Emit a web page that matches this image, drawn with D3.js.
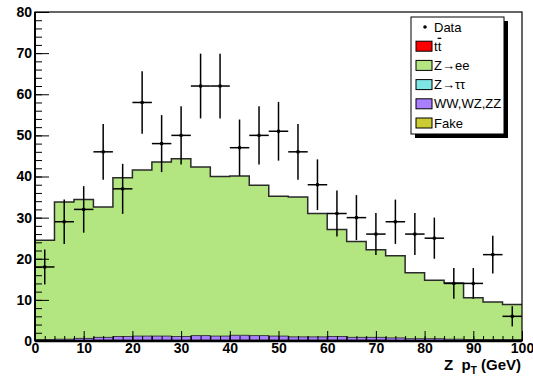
<!DOCTYPE html>
<html><head><meta charset="utf-8">
<script src="https://cdn.jsdelivr.net/npm/d3@7"></script>
<style>body{margin:0;background:#fff}svg{display:block}text{font-family:"Liberation Sans",Arial,sans-serif}</style>
</head><body><svg id="c" width="533" height="381"></svg>
<script>
// bin edges: 25 bins of 4 GeV from 0 to 100
const binEdges = d3.range(0, 101, 4);
const dataCounts = [18,29,32,46,37,58,48,50,62,62,47,50,51,46,38,31,30,26,29,26,25,14,14,21,6];
const totalMC   = [24.5,33.8,34.4,32.6,39.7,41.6,43.5,44.3,42.3,40.0,40.1,37.9,35.2,35.0,31.0,27.1,24.2,22.2,20.7,16.6,14.8,14.1,10.5,9.5,8.9];
const wwVals    = [0.2,0.3,0.5,0.7,0.9,1.0,1.0,0.9,1.1,1.0,1.2,1.1,1.0,0.8,0.8,0.9,0.7,0.7,0.6,0.4,0.4,0.3,0.2,0.2,0.2];
const ttVals    = [0.05,0.05,0.05,0.1,0.1,0.1,0.1,0.1,0.1,0.1,0.1,0.1,0.1,0.1,0.1,0.1,0.1,0.1,0.05,0.05,0.05,0.05,0.05,0.05,0.05];
const zttVals   = [0.05,0.05,0.05,0.05,0.05,0.05,0.05,0.05,0.05,0.05,0.05,0.05,0.05,0.05,0.05,0.05,0.05,0.05,0.05,0.05,0.05,0.05,0.05,0.05,0.05];
const fakeVals  = [0.05,0.05,0.05,0.05,0.05,0.05,0.05,0.05,0.05,0.05,0.05,0.05,0.05,0.05,0.05,0.05,0.05,0.05,0.05,0.05,0.05,0.05,0.05,0.05,0.05];
const zeeVals   = totalMC.map((t,i)=> t - wwVals[i] - ttVals[i] - zttVals[i] - fakeVals[i]);
const xTicks = [0,10,20,30,40,50,60,70,80,90,100];
const yTicks = [0,10,20,30,40,50,60,70,80];
const legendLabels = ["Data","tt\u0304","Z\u2192ee","Z\u2192\u03c4\u03c4","WW,WZ,ZZ","Fake"];

const svg = d3.select("#c");
const x = d3.scaleLinear().domain([0,100]).range([35,522]);
const y = d3.scaleLinear().domain([0,80]).range([341,12]);

// stack order bottom->top
const layers = [
  {name:"Fake", vals:fakeVals, color:"#cccc33"},
  {name:"tt", vals:ttVals, color:"#ff0000"},
  {name:"Ztt", vals:zttVals, color:"#7fe5e5"},
  {name:"WW", vals:wwVals, color:"#a97fff"},
  {name:"Zee", vals:zeeVals, color:"#b3e581"}
];
const base = new Array(25).fill(0);
const g = svg.append("g");
layers.forEach(L=>{
  L.low = base.slice();
  L.cum = base.map((b,i)=>b+L.vals[i]);
  L.cum.forEach((v,i)=>base[i]=v);
});
// Zee filled as step area
layers.slice().reverse().forEach(L=>{
  if(L.name==="Zee"){
    let pts = [[x(0), y(0)]];
    L.cum.forEach((v,i)=>{ pts.push([x(binEdges[i]), y(v)]); pts.push([x(binEdges[i+1]), y(v)]); });
    pts.push([x(100), y(0)]);
    g.append("path").attr("d", d3.line()(pts)+"Z").attr("fill", L.color).attr("stroke","none");
    let lp = [[x(0), y(0)]];
    L.cum.forEach((v,i)=>{ lp.push([x(binEdges[i]), y(v)]); lp.push([x(binEdges[i+1]), y(v)]); });
    g.append("path").attr("d", d3.line()(lp)).attr("fill","none").attr("stroke","#2a2a2a").attr("stroke-width",1.5);
  } else {
    L.vals.forEach((v,i)=>{
      g.append("rect").attr("x",x(binEdges[i])).attr("width",x(binEdges[i+1])-x(binEdges[i]))
        .attr("y",y(L.cum[i])).attr("height",Math.max(0,y(L.low[i])-y(L.cum[i])))
        .attr("fill",L.color).attr("stroke",L.name==="WW"?"#222":"none").attr("stroke-width",0.8);
    });
  }
});

// axes
const xMinor = d3.axisBottom(x).tickValues(d3.range(0,101,2)).tickSize(-5).tickFormat("");
const xMajor = d3.axisBottom(x).tickValues(xTicks).tickSize(-10).tickPadding(2).tickFormat(d3.format("d"));
const yMinor = d3.axisLeft(y).tickValues(d3.range(0,81,2)).tickSize(-7).tickFormat("");
const yMajor = d3.axisLeft(y).tickValues(yTicks).tickSize(-14).tickPadding(3).tickFormat(d3.format("d"));
[xMinor,xMajor].forEach(a=>{
  const ax = svg.append("g").attr("transform","translate(0,341)").call(a);
  ax.select(".domain").remove();
  ax.selectAll("line").attr("stroke","#000").attr("stroke-width",1);
  ax.selectAll("text").attr("font-size",14).attr("font-weight","bold").attr("fill","#000").attr("font-family","Liberation Sans, Arial");
});
[yMinor,yMajor].forEach(a=>{
  const ax = svg.append("g").attr("transform","translate(35,0)").call(a);
  ax.select(".domain").remove();
  ax.selectAll("line").attr("stroke","#000").attr("stroke-width",1);
  ax.selectAll("text").attr("font-size",14).attr("font-weight","bold").attr("fill","#000").attr("font-family","Liberation Sans, Arial");
});

// frame
svg.append("rect").attr("x",x(0)).attr("y",y(80)).attr("width",x(100)-x(0)).attr("height",y(0)-y(80))
  .attr("fill","none").attr("stroke","#000").attr("stroke-width",1.2);
svg.append("line").attr("x1",x(0)).attr("x2",x(100)).attr("y1",y(0)).attr("y2",y(0)).attr("stroke","#000").attr("stroke-width",2.5);
svg.append("line").attr("x1",x(0)).attr("x2",x(0)).attr("y1",y(0)).attr("y2",y(80)).attr("stroke","#000").attr("stroke-width",2);

// data points
const dg = svg.append("g");
dataCounts.forEach((n,i)=>{
  const cx = x((binEdges[i]+binEdges[i+1])/2);
  const e = Math.sqrt(n);
  dg.append("line").attr("x1",cx).attr("x2",cx).attr("y1",y(n-e)).attr("y2",y(Math.min(n+e,80))).attr("stroke","#000").attr("stroke-width",1.5);
  dg.append("line").attr("x1",x(binEdges[i])).attr("x2",x(binEdges[i+1])).attr("y1",y(n)).attr("y2",y(n)).attr("stroke","#000").attr("stroke-width",1.5);
  dg.append("rect").attr("x",cx-1.5).attr("y",y(n)-1.5).attr("width",3).attr("height",3).attr("fill","#000");
});

// axis title
const t = svg.append("text").attr("x",521).attr("y",370).attr("text-anchor","end")
  .attr("font-size",15).attr("font-weight","bold").attr("fill","#000").attr("xml:space","preserve");
t.append("tspan").text("Z  p");
t.append("tspan").attr("font-size",10).attr("dy",4).text("T");
t.append("tspan").attr("dy",-4).text(" (GeV)");

// legend
const lx=411, ly=17, lw=93, lh=117;
svg.append("rect").attr("x",lx+4).attr("y",ly+4).attr("width",lw).attr("height",lh).attr("fill","#000");
svg.append("rect").attr("x",lx).attr("y",ly).attr("width",lw).attr("height",lh).attr("fill","#fff").attr("stroke","#000").attr("stroke-width",1);
const legColors = [null,"#ff0000","#b3e581","#7fe5e5","#a97fff","#cccc33"];
legendLabels.forEach((lab,i)=>{
  const cy = ly + 10 + i*19.2;
  if(i===0){
    svg.append("circle").attr("cx",425).attr("cy",cy).attr("r",1.8).attr("fill","#000");
  } else {
    svg.append("rect").attr("x",416).attr("y",cy-5).attr("width",16).attr("height",10)
      .attr("fill",legColors[i]).attr("stroke","#000").attr("stroke-width",1);
  }
  const tx = svg.append("text").attr("x", 434).attr("y", cy+4.5).attr("font-size",13).attr("fill","#000");
  if(i===1){
    tx.append("tspan").text("t");
    tx.append("tspan").style("text-decoration","overline").text("t");
  } else {
    tx.text(lab);
  }
});
</script>
</body></html>
